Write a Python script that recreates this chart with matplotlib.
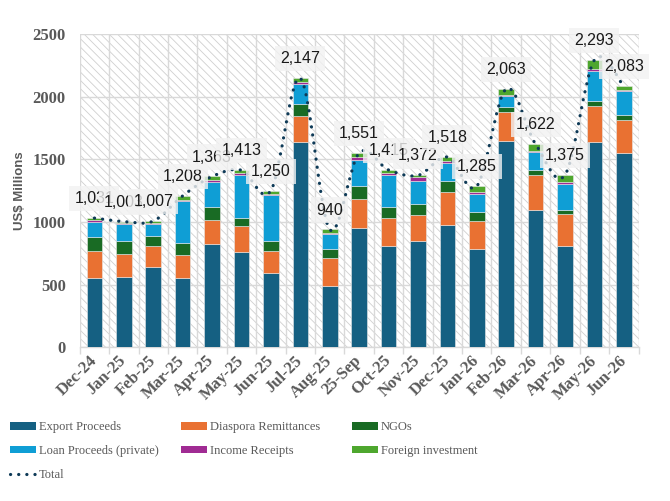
import numpy as np
import matplotlib
matplotlib.use("Agg")
import matplotlib.pyplot as plt
from matplotlib.path import Path
from matplotlib.patches import PathPatch, Rectangle, Patch
from matplotlib.lines import Line2D

months = ['Dec-24', 'Jan-25', 'Feb-25', 'Mar-25', 'Apr-25', 'May-25', 'Jun-25',
          'Jul-25', 'Aug-25', '25-Sep', 'Oct-25', 'Nov-25', 'Dec-25', 'Jan-26',
          'Feb-26', 'Mar-26', 'Apr-26', 'May-26', 'Jun-26']

export_proceeds = [552, 560, 640, 552, 824, 760, 592, 1635, 488, 950, 806, 848, 979, 784, 1646, 1094, 806, 1638, 1547]
diaspora = [216, 182, 166, 182, 190, 211, 174, 211, 224, 234, 224, 206, 264, 222, 235, 282, 256, 291, 267]
ngos = [112, 106, 82, 98, 104, 61, 82, 96, 75, 102, 88, 90, 85, 72, 40, 40, 34, 40, 43]
loan_private = [122, 139, 94, 334, 200, 342, 366, 160, 115, 208, 256, 179, 139, 149, 85, 139, 206, 240, 186]
income_receipts = [12, 8, 10, 8, 16, 13, 13, 16, 13, 26, 13, 32, 19, 13, 11, 13, 18, 13, 11]
foreign_inv = [17, 8, 15, 34, 29, 26, 23, 29, 25, 31, 28, 17, 32, 45, 46, 54, 55, 71, 29]
totals = [1031, 1003, 1007, 1208, 1363, 1413, 1250, 2147, 940, 1551, 1415, 1372, 1518, 1285, 2063, 1622, 1375, 2293, 2083]

series_names = ['Export Proceeds', 'Diaspora Remittances', 'NGOs',
                'Loan Proceeds (private)', 'Income Receipts', 'Foreign investment']
series_vals = [export_proceeds, diaspora, ngos, loan_private, income_receipts, foreign_inv]
colors = ['#156082', '#E97132', '#196B24', '#0F9ED5', '#A02B93', '#4EA72E']
line_color = '#0E3A57'
tick_color = '#595959'
grid_color = '#D9D9D9'

plt.rcParams['hatch.linewidth'] = 0.6

W, H = 670, 501
fig = plt.figure(figsize=(W / 100, H / 100), dpi=100)
ax = fig.add_axes([0.119, 0.307, 0.834, 0.625])

n = len(months)
x = np.arange(n)

# hatched plot background
bg = Rectangle((0, 0), 1, 1, transform=ax.transAxes, facecolor='white',
               edgecolor='#CFCFCF', hatch='\\\\\\\\', linewidth=0, zorder=0)
ax.add_patch(bg)

bottom = np.zeros(n)
handles = {}
for name, vals, c in zip(series_names, series_vals, colors):
    v = np.array(vals, dtype=float)
    ax.bar(x, v, width=0.53, bottom=bottom, color=c, edgecolor='#E8E8E8',
           linewidth=0.4, zorder=3, label=name)
    handles[name] = Patch(facecolor=c, edgecolor='none')
    bottom += v

# smoothed total line (Catmull-Rom as cubic Bezier)
P = np.column_stack([x, np.array(totals, dtype=float)])
verts = [P[0]]
codes = [Path.MOVETO]
for i in range(n - 1):
    p0 = P[i - 1] if i > 0 else P[i]
    p1 = P[i]
    p2 = P[i + 1]
    p3 = P[i + 2] if i + 2 < n else P[i + 1]
    c1 = p1 + (p2 - p0) / 6.0
    c2 = p2 - (p3 - p1) / 6.0
    verts += [c1, c2, p2]
    codes += [Path.CURVE4] * 3
path = Path(np.array(verts), codes)
line_style = (0, (0.05, 2.5))
pp = PathPatch(path, facecolor='none', edgecolor=line_color, linewidth=2.3,
               linestyle=line_style, capstyle='round', zorder=4)
ax.add_patch(pp)
handles['Total'] = Line2D([0], [0], color=line_color, linewidth=2.3,
                          linestyle=line_style, dash_capstyle='round')

# data labels
for xi, t in zip(x, totals):
    ax.annotate(f'{t:,}', (xi, t), xytext=(0, 14), textcoords='offset points',
                ha='center', va='center', fontsize=11.5, color='#1A1A1A',
                family='Liberation Sans', zorder=6,
                bbox=dict(boxstyle='square,pad=0.32', facecolor='#F2F2F2',
                          edgecolor='none', alpha=0.8))

ax.set_xlim(-0.5, n - 0.5)
ax.set_ylim(0, 2500)
ax.set_yticks(np.arange(0, 2501, 500))
ax.set_xticks(x)
ax.set_xticks(np.arange(-0.5, n, 1.0), minor=True)
ax.set_xticklabels(months, rotation=45, ha='right', va='center',
                   rotation_mode='anchor')
for lab in ax.get_xticklabels() + ax.get_yticklabels():
    lab.set_family('Liberation Serif')
    lab.set_fontweight('bold')
    lab.set_color(tick_color)
    lab.set_fontsize(12)

ax.tick_params(axis='x', which='major', length=0, pad=8)
ax.tick_params(axis='x', which='minor', length=5, color=grid_color, width=1)
ax.tick_params(axis='y', length=0, pad=10)

ax.grid(True, axis='y', which='major', color=grid_color, linewidth=1.0, zorder=1)
ax.grid(True, axis='x', which='minor', color=grid_color, linewidth=1.0, zorder=1)
ax.set_axisbelow(True)
for s in ['top', 'right', 'left']:
    ax.spines[s].set_visible(False)
ax.spines['bottom'].set_color(grid_color)
ax.spines['bottom'].set_linewidth(1.0)

ax.set_ylabel('US$ Millions', family='Liberation Sans', fontweight='bold',
              fontsize=9.5, color=tick_color, labelpad=5)

# legend: three columns placed like the reference
columns = [['Export Proceeds', 'Loan Proceeds (private)', 'Total'],
           ['Diaspora Remittances', 'Income Receipts'],
           ['NGOs', 'Foreign investment']]
col_x = [10, 181, 352]
for cx, names in zip(col_x, columns):
    leg = fig.legend([handles[k] for k in names], names, ncol=1,
                     loc='upper left', bbox_to_anchor=(cx / W, 1 - 421 / H),
                     frameon=False, borderpad=0, borderaxespad=0,
                     handlelength=2.1, handleheight=0.6,
                     handletextpad=0.2, labelspacing=0.95,
                     prop={'family': 'Liberation Serif', 'size': 9})
    for t in leg.get_texts():
        t.set_color(tick_color)

fig.savefig('out.png', dpi=100)
